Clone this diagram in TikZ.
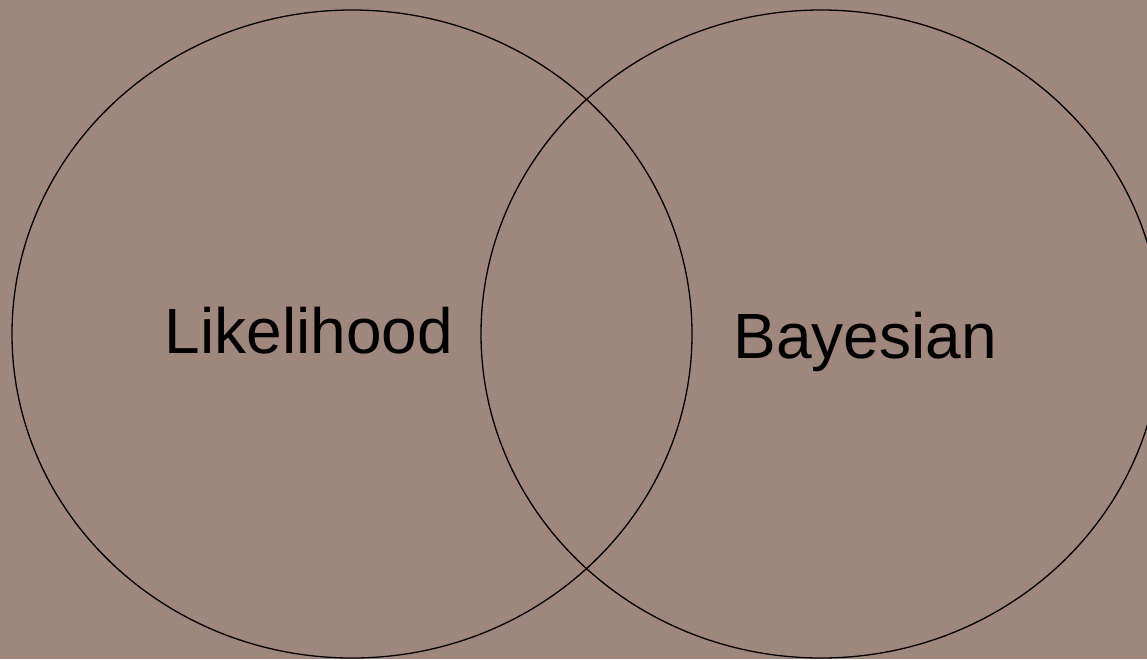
\documentclass[tikz,border=0pt]{standalone}
\usepackage{fontspec}
\setmainfont{Liberation Sans}
\definecolor{bg}{RGB}{160,135,126}
\begin{document}
\begin{tikzpicture}[x=1pt,y=-1pt,
  setring/.style={draw=black,line width=1.3pt},
  setlabel/.style={font=\fontsize{64}{70}\selectfont,text=black,anchor=base,inner sep=0pt}]
\fill[bg] (0,0) rectangle (1147,659);
\useasboundingbox (0,0) rectangle (1147,659);
\begin{scope}
\clip (0,0) rectangle (1147,659);
\draw[setring] (352,334) ellipse [x radius=340pt, y radius=324pt];
\draw[setring] (821,334) ellipse [x radius=340pt, y radius=324pt];
\end{scope}
\node[setlabel] (lik) at (309,353) {Likelihood};
\node[setlabel] (bay) at (865,358) {Bayesian};
\end{tikzpicture}
\end{document}
